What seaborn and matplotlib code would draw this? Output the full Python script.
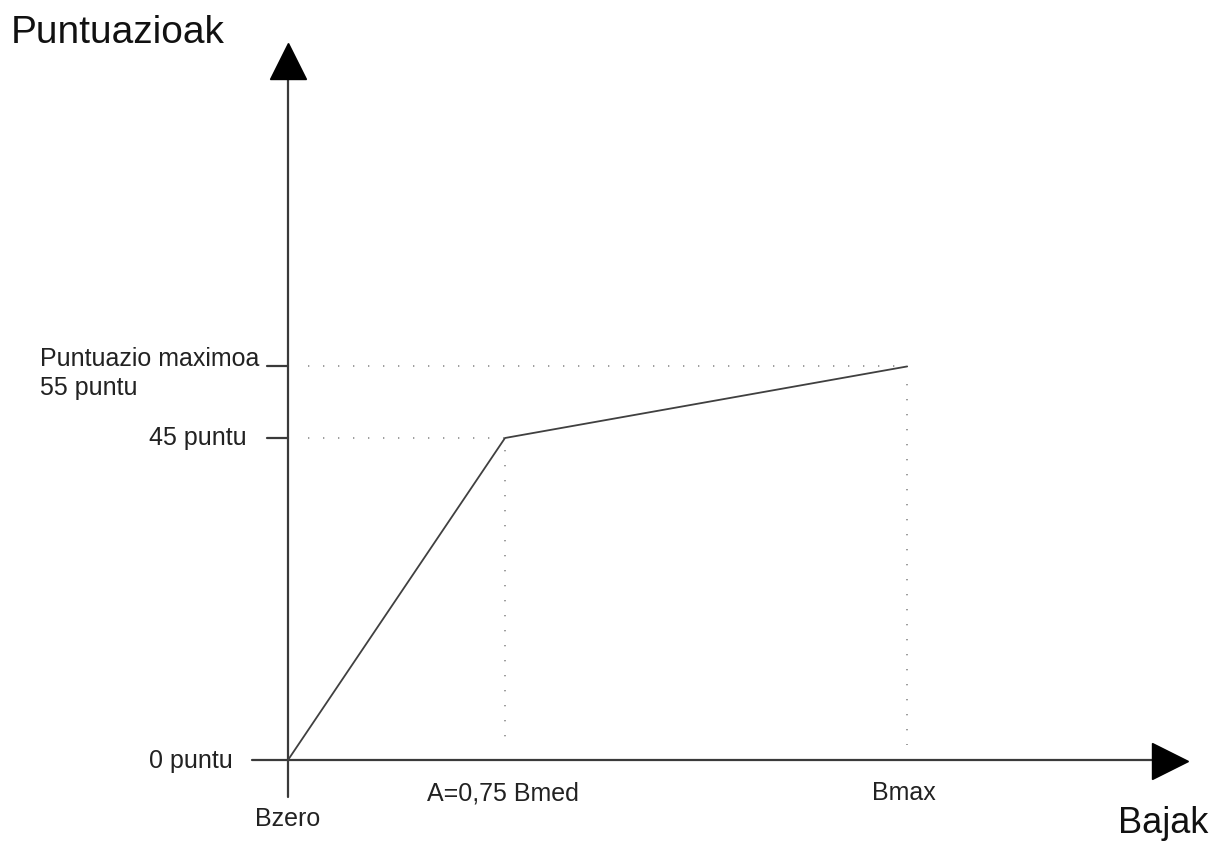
import numpy as np
import matplotlib
matplotlib.use('Agg')
import matplotlib.pyplot as plt
import seaborn as sns

OUTPUT_CHART = 'out.png'

# --- chart data (Bajak -> Puntuazioak) ---
bajak = [0.0, 0.75, 2.14]            # Bzero, A = 0,75 Bmed, Bmax
puntuak = [0, 45, 55]                 # 0 puntu, 45 puntu, 55 puntu
x_labels = ['Bzero', 'A=0,75 Bmed', 'Bmax']
y_labels = ['0 puntu', '45 puntu', 'Puntuazio maximoa\n55 puntu']
x_title = 'Bajak'
y_title = 'Puntuazioak'

# pixel <-> data scale of the drawing (origin sits at pixel 288, 760)
W, H = 1215, 843
OX, OY = 288, 760
SX = 0.75 / 217
SY = 45 / 322


def px(x, y):
    """Convert a pixel position of the canvas to data coordinates."""
    return (x - OX) * SX, (OY - y) * SY


def plot_diagram():
    sns.set_style('white')
    plt.rcParams['font.family'] = ['Liberation Sans', 'DejaVu Sans']

    fig = plt.figure(figsize=(W / 100, H / 100), dpi=100)
    ax = fig.add_axes([0, 0, 1, 1])
    ax.set_xlim(px(0, 0)[0], px(W, 0)[0])
    ax.set_ylim(px(0, H)[1], px(0, 0)[1])
    ax.axis('off')

    axis_col = '#3a3a3a'
    dot_col = '#8c8c8c'

    # axes with arrow heads
    ax.plot([px(252, 0)[0], px(1160, 0)[0]], [0, 0], color=axis_col, lw=1.6, zorder=2)
    ax.plot([0, 0], [px(0, 797)[1], px(0, 70)[1]], color=axis_col, lw=1.6, zorder=2)
    ax.plot(*px(1170, 761), marker='>', markersize=26, color='black', mec='black', zorder=3)
    ax.plot(*px(288, 61), marker='^', markersize=26, color='black', mec='black', zorder=3)

    # guide lines (dots ~15 px apart)
    dots = dict(color=dot_col, lw=1.2, linestyle=(0, (0.8, 8.2)), zorder=1)
    gap = 20 * SX
    ax.plot([gap, bajak[2]], [puntuak[2], puntuak[2]], **dots)
    ax.plot([gap, bajak[1]], [puntuak[1], puntuak[1]], **dots)
    ax.plot([bajak[1], bajak[1]], [puntuak[1] - 12 * SY, px(0, 740)[1]], **dots)
    ax.plot([bajak[2], bajak[2]], [puntuak[2] - 18 * SY, px(0, 745)[1]], **dots)

    # y tick marks
    for v in puntuak[1:]:
        ax.plot([px(267, 0)[0], 0], [v, v], color=axis_col, lw=1.6, zorder=2)

    # score curve
    sns.lineplot(x=bajak, y=puntuak, ax=ax, color='#404040', lw=1.3, zorder=4)

    fs = 18
    # y labels
    ax.text(*px(233, 768), y_labels[0], ha='right', va='baseline', fontsize=fs, color='#222')
    ax.text(*px(247, 445), y_labels[1], ha='right', va='baseline', fontsize=fs, color='#222')
    ax.text(*px(40, 395), y_labels[2], ha='left', va='baseline', fontsize=fs, color='#222',
            linespacing=1.25)

    # x labels
    ax.text(bajak[0], px(0, 826)[1], x_labels[0], ha='center', va='baseline', fontsize=fs, color='#222')
    ax.text(bajak[1] - 2 * SX, px(0, 800)[1], x_labels[1], ha='center', va='baseline', fontsize=fs, color='#222')
    ax.text(bajak[2] - 3 * SX, px(0, 800)[1], x_labels[2], ha='center', va='baseline', fontsize=fs, color='#222')

    # axis titles
    ax.text(*px(11, 43), y_title, ha='left', va='baseline', fontsize=28, color='#111')
    ax.text(*px(1208, 833), x_title, ha='right', va='baseline', fontsize=26, color='#111')

    plt.savefig(OUTPUT_CHART, dpi=100, facecolor='white')
    plt.close()


if __name__ == "__main__":
    plot_diagram()
